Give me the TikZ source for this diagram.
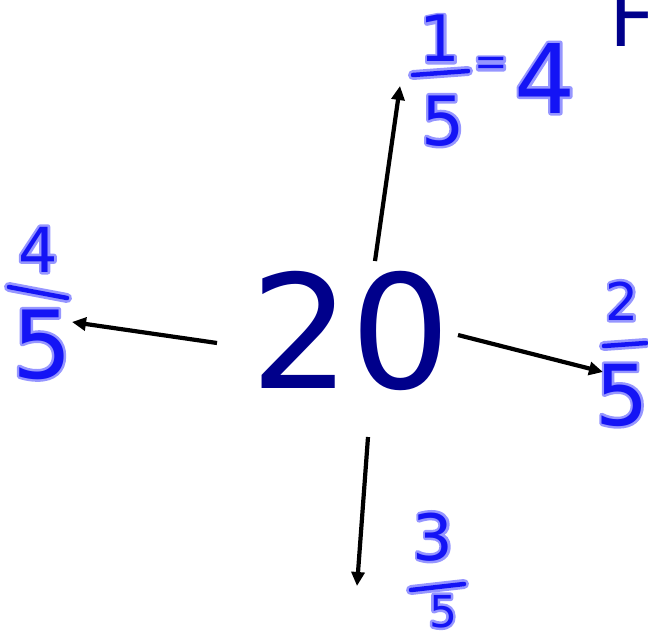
\documentclass[tikz,border=0pt]{standalone}
\usepackage{fontspec}
\setmainfont{DejaVu Sans}
\usetikzlibrary{arrows.meta}
\definecolor{navy}{RGB}{0,0,139}
\definecolor{ink}{RGB}{20,20,245}
\definecolor{glow}{RGB}{150,150,255}
\newcommand{\hw}[2]{\fontsize{#1}{#1}\selectfont\rlap{\color{glow}\special{pdf:literal direct q 2 Tr 5 w 1 j 1 J}#2\special{pdf:literal direct Q}}#2}
\tikzset{
  px/.style={x=1pt,y=-1pt},
  hand/.style={text=ink, inner sep=0pt, anchor=base},
  barglow/.style={draw=glow, line width=10pt, line cap=round},
  barink/.style={draw=ink, line width=4.5pt, line cap=round},
  arr/.style={draw=black, line width=4.2pt, -{Triangle[length=14pt,width=13pt]}},
}
\begin{document}
\begin{tikzpicture}[px]
\useasboundingbox (0,0) rectangle (648,634);
% central number
\node[text=navy, inner sep=0pt, anchor=base] (twenty) at (351,388) {\fontsize{158}{160}\selectfont 20};
% cut-off title letter
\node[text=navy, inner sep=0pt, anchor=base west] (title) at (609,47) {\fontsize{80}{80}\selectfont F};
% top fraction 1/5 = 4
\node[hand] (tn) at (440,62) {\hw{64}{1}};
\coordinate (tb1) at (413,75); \coordinate (tb2) at (468,71);
\draw[barglow] (tb1) -- (tb2); \draw[barink] (tb1) -- (tb2);
\node[hand] (td) at (443,145) {\hw{68}{5}};
\node[hand] (teq) at (491,76) {\hw{40}{=}};
\node[hand] (tfour) at (545,113) {\hw{96}{4}};
% left fraction 4/5
\node[hand] (ln) at (38,272) {\hw{62}{4}};
\coordinate (lb1) at (9,287); \coordinate (lb2) at (67,298);
\draw[barglow] (lb1) -- (lb2); \draw[barink] (lb1) -- (lb2);
\node[hand] (ld) at (42,378) {\hw{94}{5}};
% right fraction 2/5
\node[hand] (rn) at (622,320) {\hw{52}{2}};
\coordinate (rb1) at (604,346); \coordinate (rb2) at (646,343);
\draw[barglow] (rb1) -- (rb2); \draw[barink] (rb1) -- (rb2);
\node[hand] (rd) at (622,425) {\hw{84}{5}};
% bottom fraction 3/5
\node[hand] (bn) at (433,560) {\hw{64}{3}};
\coordinate (bb1) at (411,590); \coordinate (bb2) at (464,584);
\draw[barglow] (bb1) -- (bb2); \draw[barink] (bb1) -- (bb2);
\node[hand] (bd) at (443,627) {\hw{44}{5}};
% arrows
\coordinate (us) at (375,261); \coordinate (ue) at (400,86);
\coordinate (ls) at (217,343); \coordinate (le) at (72,322);
\coordinate (rs) at (458,335); \coordinate (re) at (603,372);
\coordinate (ds) at (368,437); \coordinate (de) at (357,586);
\draw[arr] (us) -- (ue);
\draw[arr] (ls) -- (le);
\draw[arr] (rs) -- (re);
\draw[arr] (ds) -- (de);
\end{tikzpicture}
\end{document}
